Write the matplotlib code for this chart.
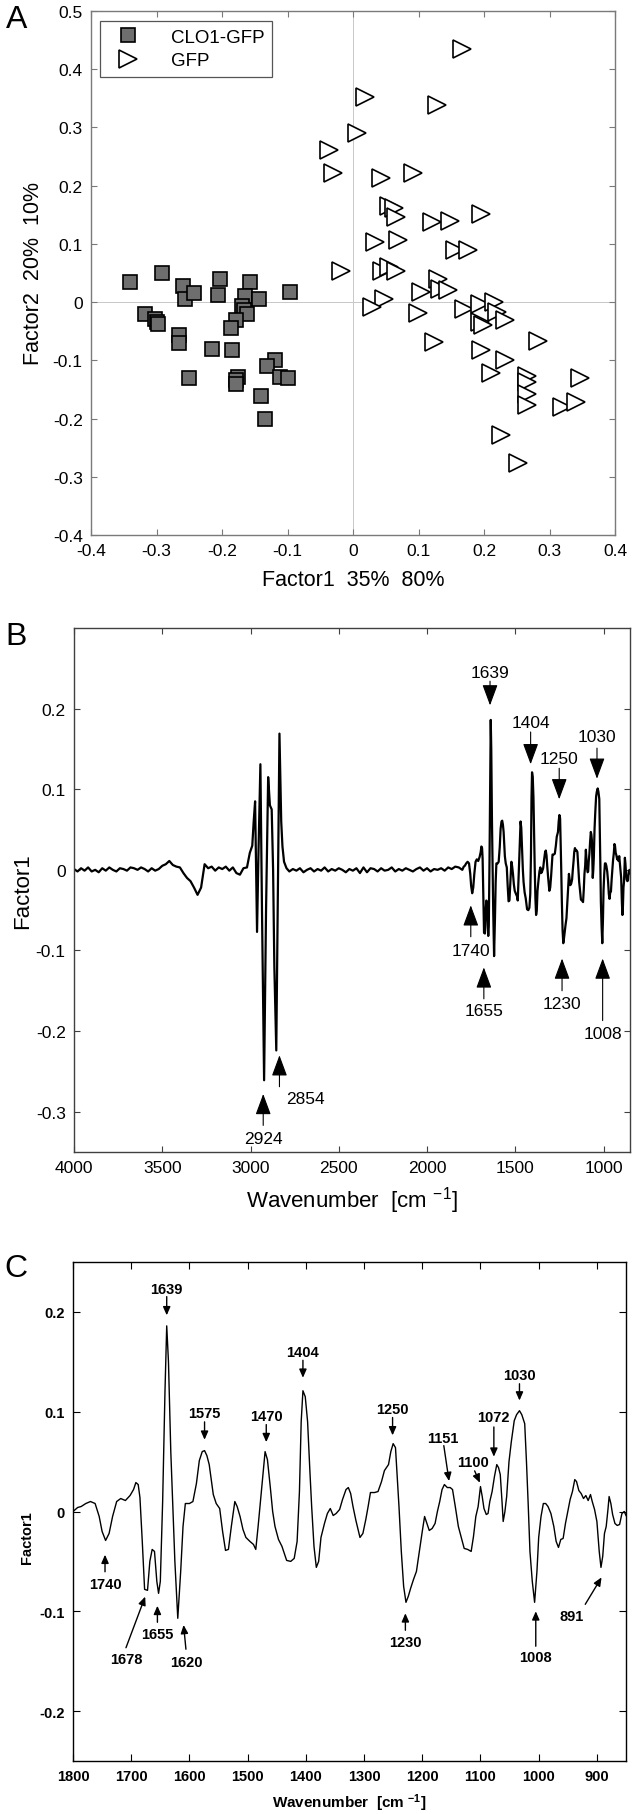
import matplotlib
matplotlib.use('Agg')
import matplotlib.pyplot as plt

plt.rcParams['font.family'] = ['Liberation Sans', 'DejaVu Sans']
plt.rcParams['mathtext.default'] = 'regular'
plt.rcParams['axes.unicode_minus'] = False

# ---- panel A: factor scores ----
clo1_x = [-0.340, -0.292, -0.260, -0.257, -0.243, -0.203, -0.206, -0.158, -0.165, -0.144,
          -0.096, -0.317, -0.303, -0.300, -0.298, -0.266, -0.266, -0.170, -0.166, -0.162,
          -0.179, -0.187, -0.216, -0.184, -0.119, -0.131, -0.111, -0.099, -0.250, -0.175,
          -0.178, -0.178, -0.140, -0.135]
clo1_y = [0.034, 0.050, 0.027, 0.006, 0.015, 0.040, 0.013, 0.034, 0.011, 0.005,
          0.018, -0.020, -0.029, -0.034, -0.037, -0.056, -0.071, -0.006, -0.014, -0.020,
          -0.030, -0.045, -0.080, -0.083, -0.100, -0.109, -0.129, -0.130, -0.131, -0.129,
          -0.134, -0.140, -0.161, -0.201]

gfp_x = [0.167, 0.018, 0.129, 0.006, -0.036, -0.030, 0.042, 0.091, 0.055, 0.063,
         0.066, 0.120, 0.148, 0.196, 0.034, 0.068, 0.155, 0.175, -0.019, 0.044,
         0.055, 0.065, 0.130, 0.133, 0.145, 0.104, 0.048, 0.029, 0.099, 0.170,
         0.194, 0.216, 0.194, 0.198, 0.220, 0.232, 0.124, 0.282, 0.195, 0.232,
         0.211, 0.265, 0.265, 0.266, 0.266, 0.347, 0.319, 0.341, 0.226, 0.252]
gfp_y = [0.435, 0.353, 0.338, 0.290, 0.262, 0.222, 0.214, 0.222, 0.165, 0.161,
         0.146, 0.138, 0.140, 0.151, 0.103, 0.107, 0.089, 0.089, 0.054, 0.053,
         0.060, 0.053, 0.040, 0.023, 0.020, 0.017, 0.006, -0.008, -0.018, -0.011,
         -0.003, 0.000, -0.034, -0.040, -0.017, -0.031, -0.069, -0.067, -0.083, -0.100,
         -0.121, -0.127, -0.137, -0.157, -0.177, -0.131, -0.180, -0.171, -0.229, -0.277]

# ---- factor1 loading spectrum ----
wavenumber = [
    4000, 3980, 3960, 3940, 3920, 3900, 3880, 3860, 3840, 3820,
    3800, 3780, 3760, 3740, 3720, 3700, 3680, 3660, 3640, 3620,
    3600, 3580, 3560, 3540, 3520, 3500, 3480, 3460, 3440, 3420,
    3400, 3380, 3360, 3340, 3320, 3300, 3280, 3260, 3240, 3220,
    3200, 3180, 3160, 3140, 3120, 3100, 3080, 3060, 3040, 3020,
    3004, 2990, 2982, 2974, 2968, 2963, 2955, 2944, 2935, 2923,
    2912, 2900, 2890, 2880, 2872, 2865, 2854, 2846, 2836, 2826,
    2819, 2810, 2796,
    2780, 2760, 2740, 2720, 2700, 2680, 2660, 2640, 2620, 2600,
    2580, 2560, 2540, 2520, 2500, 2480, 2460, 2440, 2420, 2400,
    2380, 2360, 2340, 2320, 2300, 2280, 2260, 2240, 2220, 2200,
    2180, 2160, 2140, 2120, 2100, 2080, 2060, 2040, 2020, 2000,
    1980, 1960, 1940, 1920, 1900, 1880, 1860, 1840, 1820,
    1800, 1792, 1786, 1778, 1770, 1762, 1755, 1750, 1744, 1738,
    1732, 1725, 1718, 1710, 1702, 1696, 1692, 1688, 1685, 1681,
    1677, 1672, 1668, 1664, 1660, 1656, 1653, 1650, 1646, 1642,
    1639, 1636, 1632, 1629, 1625, 1620, 1615, 1611, 1607, 1600,
    1594, 1588, 1583, 1578, 1574, 1570, 1566, 1562, 1559, 1554,
    1548, 1543, 1538, 1533, 1528, 1522, 1518, 1513, 1508, 1503,
    1496, 1490, 1486, 1482, 1478, 1474, 1470, 1466, 1461, 1457,
    1453, 1447, 1441, 1433, 1426, 1420, 1415, 1411, 1408, 1405,
    1401, 1397, 1393, 1390, 1386, 1382, 1378, 1374, 1368, 1363,
    1358, 1353, 1348, 1342, 1337, 1331, 1327, 1323, 1319, 1314,
    1307, 1302, 1297, 1293, 1289, 1282, 1276, 1270, 1265, 1258,
    1254, 1250, 1246, 1243, 1240, 1236, 1232, 1228, 1224, 1220,
    1215, 1210, 1205, 1200, 1196, 1192, 1188, 1183, 1178, 1174,
    1170, 1166, 1162, 1157, 1152, 1148, 1143, 1138, 1133, 1128,
    1122, 1116, 1112, 1108, 1104, 1100, 1097, 1094, 1090, 1087,
    1084, 1080, 1076, 1072, 1069, 1066, 1063, 1061, 1058, 1055,
    1051, 1047, 1042, 1038, 1033, 1029, 1024, 1021, 1018, 1015,
    1011, 1007, 1003, 1000, 996, 992, 988, 984, 979, 974,
    970, 966, 962, 958, 954, 950, 946, 942, 938, 935,
    931, 927, 923, 919, 915, 911, 908, 904, 900, 896,
    893, 890, 887, 884, 881, 879, 876, 873, 869, 865,
    861, 857, 853, 850]
factor1 = [
    0.001, -0.002, 0.002, -0.001, 0.003, -0.002, 0.000, -0.003, 0.002, -0.001,
    0.003, 0.000, -0.002, 0.002, 0.001, -0.001, 0.003, 0.002, 0.000, 0.003,
    0.001, -0.002, 0.002, -0.001, 0.001, 0.005, 0.007, 0.011, 0.006, 0.004,
    0.003, -0.004, -0.010, -0.014, -0.022, -0.031, -0.022, 0.007, 0.002, 0.004,
    -0.001, 0.003, 0.001, 0.004, -0.001, 0.003, -0.004, -0.006, 0.002, 0.003,
    0.021, 0.030, 0.060, 0.085, 0.000, -0.077, 0.020, 0.131, -0.050, -0.261,
    -0.050, 0.115, 0.080, 0.075, 0.000, -0.120, -0.224, -0.050, 0.169, 0.060,
    0.029, 0.010, 0.002,
    -0.002, 0.001, -0.001, 0.002, -0.003, 0.000, 0.002, -0.002, 0.001, -0.001,
    0.003, -0.002, 0.001, -0.001, 0.002, 0.000, -0.003, 0.001, -0.001, 0.002,
    -0.004, 0.003, -0.003, 0.002, 0.001, -0.002, 0.002, -0.001, 0.000, 0.003,
    -0.002, 0.001, -0.001, 0.002, 0.000, -0.002, 0.001, 0.003, -0.001, 0.002,
    -0.002, 0.001, 0.000, 0.002, -0.001, 0.003, 0.001, 0.004, 0.003,
    0.000, 0.004, 0.005, 0.008, 0.010, 0.008, -0.005, -0.020, -0.029, -0.022,
    -0.005, 0.010, 0.013, 0.011, 0.016, 0.022, 0.029, 0.027, 0.014, -0.030,
    -0.078, -0.079, -0.050, -0.038, -0.040, -0.070, -0.082, -0.070, 0.010, 0.120,
    0.186, 0.150, 0.060, 0.014, -0.050, -0.107, -0.060, -0.015, 0.008, 0.008,
    0.010, 0.028, 0.051, 0.060, 0.061, 0.056, 0.047, 0.030, 0.017, 0.008,
    0.003, -0.020, -0.039, -0.038, -0.015, 0.010, 0.005, -0.005, -0.018, -0.026,
    -0.030, -0.033, -0.038, -0.015, 0.010, 0.035, 0.060, 0.052, 0.024, 0.000,
    -0.015, -0.028, -0.035, -0.049, -0.050, -0.047, -0.030, 0.020, 0.090, 0.121,
    0.115, 0.090, 0.040, 0.005, -0.035, -0.056, -0.050, -0.026, -0.012, -0.002,
    0.003, -0.004, -0.002, 0.002, 0.012, 0.022, 0.024, 0.018, 0.005, -0.009,
    -0.026, -0.022, -0.008, 0.005, 0.019, 0.019, 0.020, 0.030, 0.041, 0.047,
    0.060, 0.068, 0.064, 0.035, 0.005, -0.040, -0.075, -0.091, -0.085, -0.077,
    -0.068, -0.060, -0.040, -0.020, -0.005, -0.012, -0.019, -0.017, -0.012, 0.000,
    0.010, 0.022, 0.027, 0.024, 0.024, 0.022, 0.004, -0.015, -0.026, -0.037,
    -0.038, -0.040, -0.025, -0.005, 0.005, 0.025, 0.015, 0.003, -0.003, -0.002,
    0.010, 0.020, 0.035, 0.047, 0.044, 0.037, 0.010, -0.010, 0.000, 0.015,
    0.050, 0.070, 0.091, 0.097, 0.101, 0.097, 0.088, 0.050, 0.007, -0.040,
    -0.070, -0.091, -0.060, -0.026, -0.005, 0.008, 0.008, 0.005, -0.002, -0.015,
    -0.030, -0.036, -0.028, -0.027, -0.012, 0.000, 0.012, 0.020, 0.032, 0.030,
    0.021, 0.018, 0.013, 0.016, 0.011, 0.017, 0.010, 0.002, -0.010, -0.040,
    -0.056, -0.045, -0.022, -0.015, 0.002, 0.015, 0.008, -0.003, -0.012, -0.014,
    -0.013, -0.002, 0.000, -0.004]

# peak labels, panel B: (label, x, text y, arrow tail y, arrow tip y)
b_peaks = ['1639', '1404', '1250', '1030', '1740', '1655', '1230', '1008', '2924', '2854']
b_arrow_x = [1643, 1413, 1251, 1037, 1752, 1678, 1235, 1005, 2928, 2836]
b_text_x = [1643, 1413, 1251, 1037, 1752, 1678, 1235, 1005, 2928, 2688]
b_text_y = [0.245, 0.1825, 0.1375, 0.166, -0.100, -0.175, -0.166, -0.203, -0.333, -0.284]
b_tail_y = [0.234, 0.171, 0.126, 0.151, -0.083, -0.160, -0.150, -0.187, -0.317, -0.269]
b_tip_y = [0.204, 0.131, 0.0875, 0.113, -0.044, -0.121, -0.110, -0.110, -0.278, -0.230]

# peak labels, panel C
c_peaks = ['1639', '1575', '1470', '1404', '1250', '1151', '1100', '1072', '1030',
           '1740', '1678', '1655', '1620', '1230', '1008', '891']
c_text_x = [1639, 1574, 1468, 1405, 1251, 1164, 1112, 1077, 1033,
            1745, 1709, 1655, 1606, 1229, 1005, 943]
c_text_y = [0.2227, 0.0983, 0.0956, 0.160, 0.1027, 0.0736, 0.0492, 0.0942, 0.1363,
            -0.0727, -0.148, -0.123, -0.151, -0.131, -0.146, -0.105]
c_tail_x = [1639, 1574, 1468, 1405, 1251, 1163, 1110, 1077, 1033,
            1745, 1709, 1655, 1606, 1229, 1005, 920]
c_tail_y = [0.2153, 0.0898, 0.0871, 0.1515, 0.0942, 0.066, 0.0407, 0.0847, 0.128,
            -0.0604, -0.1365, -0.111, -0.138, -0.119, -0.135, -0.093]
c_tip_x = [1639, 1574, 1468, 1405, 1251, 1154, 1101, 1077, 1033,
           1745, 1676, 1655, 1610, 1229, 1005, 892]
c_tip_y = [0.1966, 0.0719, 0.0695, 0.134, 0.0763, 0.0305, 0.0288, 0.0549, 0.1112,
           -0.0433, -0.0853, -0.0945, -0.1137, -0.102, -0.100, -0.066]


def fmt(v):
    return f'{v:g}'


fig = plt.figure(figsize=(6.38, 18.15), dpi=100)

# ---------- A ----------
ax = fig.add_axes([91 / 638, 1 - 536 / 1815, 524 / 638, 524 / 1815])
ax.axhline(0, color='#c8c8c8', lw=0.7, zorder=0)
ax.axvline(0, color='#c8c8c8', lw=0.7, zorder=0)
ax.plot(clo1_x, clo1_y, 's', ms=10.5, mfc='#6e6e6e', mec='black', mew=1.2, label='CLO1-GFP')
ax.plot(gfp_x, gfp_y, '>', ms=13, mfc='white', mec='black', mew=1.2, label='GFP')
ax.set_xlim(-0.4, 0.4)
ax.set_ylim(-0.4, 0.5)
xt = [-0.4, -0.3, -0.2, -0.1, 0, 0.1, 0.2, 0.3, 0.4]
yt = [-0.4, -0.3, -0.2, -0.1, 0, 0.1, 0.2, 0.3, 0.4, 0.5]
ax.set_xticks(xt)
ax.set_xticklabels([fmt(v) for v in xt])
ax.set_yticks(yt)
ax.set_yticklabels([fmt(v) for v in yt])
ax.tick_params(direction='in', top=True, right=True, length=4, labelsize=12.5,
               color='#7a7a7a', pad=6)
for s in ax.spines.values():
    s.set_color('#7a7a7a')
    s.set_linewidth(1.0)
ax.set_xlabel('Factor1  35%  80%', fontsize=15.5, labelpad=8)
ax.set_ylabel('Factor2  20%  10%', fontsize=15.5, labelpad=6)
leg = ax.legend(loc='upper left', bbox_to_anchor=(0.017, 0.981), borderaxespad=0,
                fontsize=13.5, fancybox=False, framealpha=1, edgecolor='#555555',
                handletextpad=1.2, borderpad=0.4, labelspacing=0.35, handlelength=2.2)
leg.get_frame().set_linewidth(0.9)
fig.text(17 / 638, 1 - 20 / 1815, 'A', fontsize=23, ha='center', va='center')

# ---------- B ----------
ax = fig.add_axes([74 / 638, 1 - 1153 / 1815, 556 / 638, 524 / 1815])
ax.plot(wavenumber, factor1, color='black', lw=1.6)
ax.set_xlim(4000, 850)
ax.set_ylim(-0.35, 0.3)
ax.set_xticks([4000, 3500, 3000, 2500, 2000, 1500, 1000])
yt = [-0.3, -0.2, -0.1, 0, 0.1, 0.2]
ax.set_yticks(yt)
ax.set_yticklabels([fmt(v) for v in yt])
ax.tick_params(direction='in', top=True, right=True, length=4, labelsize=12.5,
               color='#404040', pad=6)
for s in ax.spines.values():
    s.set_color('#404040')
    s.set_linewidth(1.0)
ax.set_xlabel('Wavenumber  [cm $^{-1}$]', fontsize=16, labelpad=6)
ax.set_ylabel('Factor1', fontsize=16, labelpad=2)
for lab, ax_x, tx, ty, y0, y1 in zip(b_peaks, b_arrow_x, b_text_x, b_text_y, b_tail_y, b_tip_y):
    ax.annotate('', xy=(ax_x, y1), xytext=(ax_x, y0),
                arrowprops=dict(arrowstyle='-|>,head_length=0.65,head_width=0.24',
                                mutation_scale=20, lw=0.8, color='black',
                                shrinkA=0, shrinkB=0))
    ax.text(tx, ty, lab, fontsize=12.5, ha='center', va='center')
fig.text(16 / 638, 1 - 637 / 1815, 'B', fontsize=23, ha='center', va='center')

# ---------- C ----------
ax = fig.add_axes([73 / 638, 1 - 1762 / 1815, 553 / 638, 499 / 1815])
ax.plot(wavenumber, factor1, color='black', lw=1.0)
ax.set_xlim(1800, 850)
ax.set_ylim(-0.25, 0.25)
ax.set_xticks([1800, 1700, 1600, 1500, 1400, 1300, 1200, 1100, 1000, 900])
yt = [-0.2, -0.1, 0, 0.1, 0.2]
ax.set_yticks(yt)
ax.set_yticklabels([fmt(v) for v in yt])
ax.tick_params(direction='in', top=True, right=True, length=5, labelsize=10.5, pad=6)
for t in ax.get_xticklabels() + ax.get_yticklabels():
    t.set_fontweight('bold')
for s in ax.spines.values():
    s.set_linewidth(1.0)
ax.set_xlabel('Wavenumber  [cm $^{-1}$]', fontsize=11, fontweight='bold', labelpad=6)
ax.set_ylabel('Factor1', fontsize=10.5, fontweight='bold', labelpad=4)
ax.yaxis.set_label_coords(-0.07, 0.45)
for lab, tx, ty, x0, y0, x1, y1 in zip(c_peaks, c_text_x, c_text_y, c_tail_x, c_tail_y, c_tip_x, c_tip_y):
    ax.annotate('', xy=(x1, y1), xytext=(x0, y0),
                arrowprops=dict(arrowstyle='-|>,head_length=0.5,head_width=0.22',
                                mutation_scale=10, lw=1.0, color='black',
                                shrinkA=0, shrinkB=0))
    ax.text(tx, ty, lab, fontsize=10.5, fontweight='bold', ha='center', va='center')
fig.text(16 / 638, 1 - 1269 / 1815, 'C', fontsize=23, ha='center', va='center')

fig.savefig('out.png', dpi=100)
